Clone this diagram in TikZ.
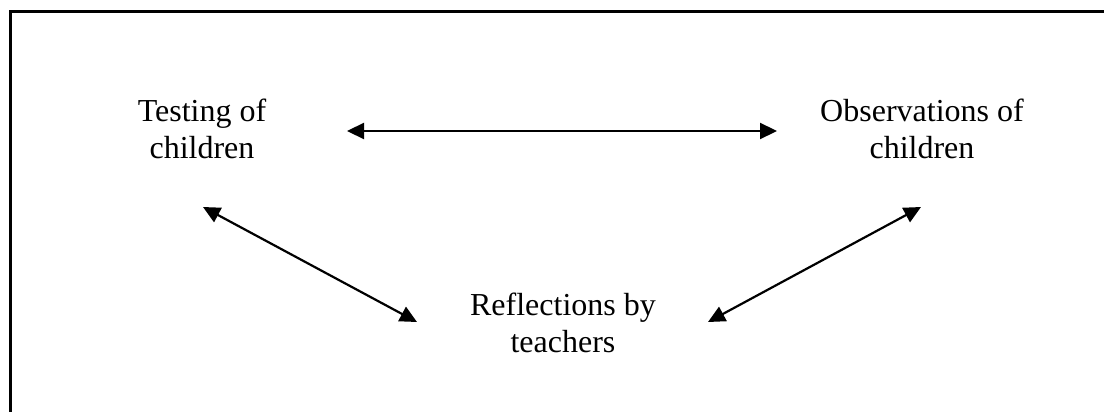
\documentclass[tikz,border=0pt]{standalone}
\usepackage{fontspec}
\setmainfont{Liberation Serif}
\usetikzlibrary{arrows.meta}
\tikzset{
  label/.style={align=center, inner sep=0pt, anchor=base,
    font=\fontsize{32}{37}\selectfont},
  link/.style={{Triangle[length=17pt,width=16pt]}-{Triangle[length=17pt,width=16pt]}, line width=2.2pt},
}
\begin{document}
\begin{tikzpicture}[x=1pt,y=-1pt]
        \useasboundingbox (0,0) rectangle (1104,412);
        % Cornice
        \draw [line width=3pt] (10.5,420) -- (10.5,11.3) -- (1110,11.3);
        % Testi
        \node [label] (test) at (202,158) {Testing of\\children};
        \node [label] (obs) at (922,158) {Observations of\\children};
        \node [label] (refl) at (563,352) {Reflections by\\teachers};
        % Estremi
        \coordinate (ta) at (347,131);
        \coordinate (oa) at (777,131);
        \coordinate (tb) at (203,207);
        \coordinate (rb) at (417,322);
        \coordinate (rc) at (708,322);
        \coordinate (oc) at (921,207);
        % Frecce
        \draw [link] (ta) -- (oa);
        \draw [link] (tb) -- (rb);
        \draw [link] (rc) -- (oc);
\end{tikzpicture}
\end{document}
